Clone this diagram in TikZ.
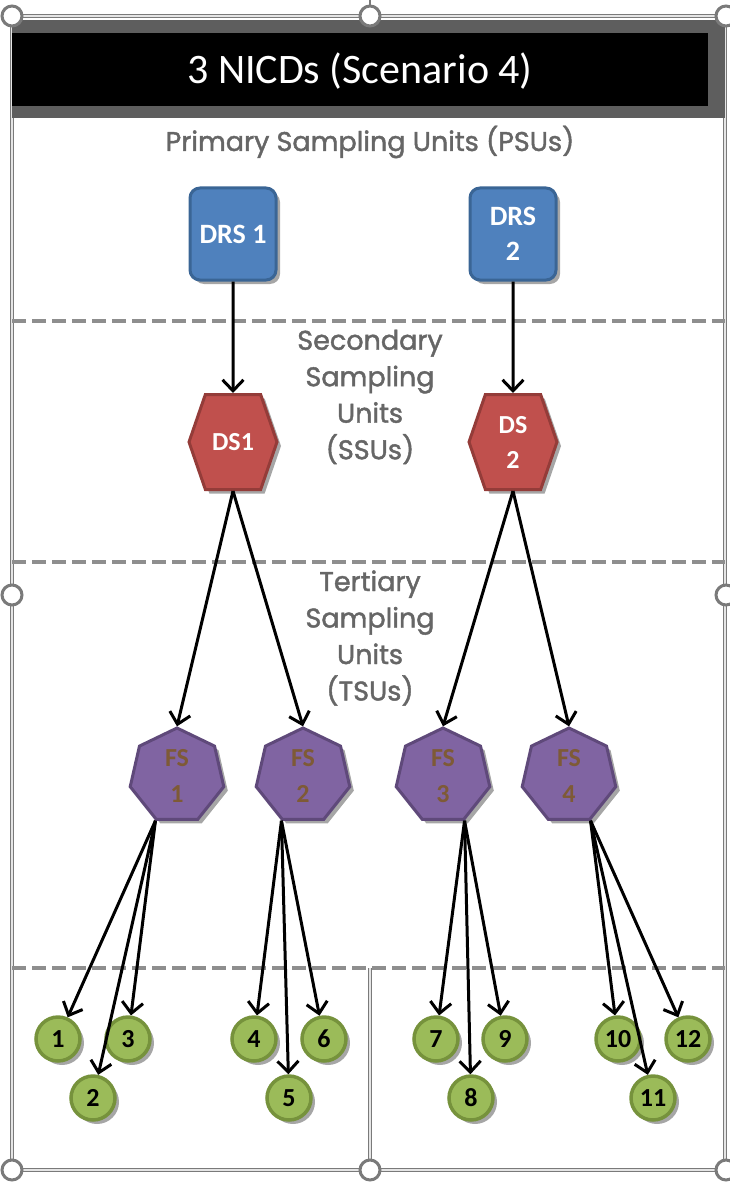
\documentclass[tikz,border=0pt]{standalone}
\usepackage{fontspec}
\setmainfont{Carlito}
\newfontfamily\unitfont{Poppins}[FakeBold=1.6]
\usetikzlibrary{shapes.geometric,shapes.symbols,arrows.meta,shadows}

\definecolor{drsblue}{HTML}{4F81BD}
\definecolor{drsedge}{HTML}{3A6595}
\definecolor{dsred}{HTML}{C0504D}
\definecolor{dsedge}{HTML}{943C39}
\definecolor{fspurple}{HTML}{8064A2}
\definecolor{fsedge}{HTML}{5F497A}
\definecolor{fstext}{HTML}{7E5A36}
\definecolor{eagreen}{HTML}{9BBB59}
\definecolor{eaedge}{HTML}{76923C}
\definecolor{unitgray}{HTML}{666666}
\definecolor{framegray}{HTML}{7A7A7A}
\definecolor{dashgray}{HTML}{8E8E8E}
\definecolor{headgray}{HTML}{5E5E5E}

\tikzset{
  nodeshadow/.style={drop shadow={shadow xshift=4pt, shadow yshift=-4pt, opacity=.35, fill=black}},
  drsbox/.style={draw=drsedge, fill=drsblue, line width=3pt, rounded corners=10pt,
    minimum width=86pt, minimum height=92pt, text=white, align=center,
    font=\fontsize{28}{35}\selectfont\bfseries, nodeshadow},
  dshex/.style={signal, signal to=east and west, signal pointer angle=142,
    draw=dsedge, fill=dsred, line width=3pt, minimum width=88pt, minimum height=95pt,
    inner sep=0pt, text=white, align=center, font=\fontsize{26}{35}\selectfont\bfseries, nodeshadow},
  fshept/.style={regular polygon, regular polygon sides=7, minimum size=96pt, inner sep=0pt,
    draw=fsedge, fill=fspurple, line width=3pt, text=fstext, align=center,
    font=\fontsize{26}{36}\selectfont\bfseries, nodeshadow},
  eanode/.style={circle, minimum size=44pt, inner sep=0pt, draw=eaedge, fill=eagreen,
    line width=3.5pt, font=\fontsize{26}{26}\selectfont\bfseries, nodeshadow},
  unitlabel/.style={text=unitgray, align=center, font=\unitfont\fontsize{27}{36.5}\selectfont},
  link/.style={line width=3pt, -{Straight Barb[length=11pt,width=21pt]}},
  sepline/.style={draw=dashgray, line width=4pt, dash pattern=on 14pt off 6pt},
  frameline/.style={draw=framegray, line width=1.8pt, double=white!80!gray, double distance=1.2pt},
  handle/.style={draw=framegray, fill=white, line width=3pt}
}

\begin{document}
\begin{tikzpicture}[x=1pt, y=-1pt]
  \useasboundingbox (0,0) rectangle (730,1182);

  % frame and header
  \draw[frameline] (12,16) -- (725,16);
  \draw[frameline] (12,16) -- (12,1170);
  \draw[frameline] (725,16) -- (725,1170);
  \draw[frameline] (12,1170) -- (725,1170);
  \draw[frameline] (370,968) -- (370,1170);
  \fill[headgray] (12,20) rectangle (725,118);
  \fill[black] (12,33) rectangle (708,106);
  \node[text=white, font=\fontsize{42}{42}\selectfont] (title) at (360,71) {3 NICDs (Scenario 4)};

  % level separators
  \draw[sepline] (12,321) -- (725,321);
  \draw[sepline] (12,562) -- (725,562);
  \draw[sepline] (12,968) -- (725,968);

  \node[unitlabel] (psu) at (370,142) {Primary Sampling Units (PSUs)};
  \node[unitlabel] (ssu) at (370,397) {Secondary\\Sampling\\Units\\(SSUs)};
  \node[unitlabel] (tsu) at (370,638) {Tertiary\\Sampling\\Units\\(TSUs)};

  % units
  \node[drsbox] (drs1) at (233,234) {DRS 1};
  \node[drsbox] (drs2) at (513,234) {DRS\\2};

  \node[dshex] (ds1) at (233,442) {DS1};
  \node[dshex] (ds2) at (513,442) {DS\\2};

  \node[fshept] (fs1) at (177,776) {FS\\1};
  \node[fshept] (fs2) at (303,776) {FS\\2};
  \node[fshept] (fs3) at (443,776) {FS\\3};
  \node[fshept] (fs4) at (569,776) {FS\\4};

  \node[eanode] (ea1) at (58,1039) {1};
  \node[eanode] (ea2) at (93,1098) {2};
  \node[eanode] (ea3) at (128,1039) {3};
  \node[eanode] (ea4) at (254,1039) {4};
  \node[eanode] (ea5) at (289,1098) {5};
  \node[eanode] (ea6) at (324,1039) {6};
  \node[eanode] (ea7) at (436,1039) {7};
  \node[eanode] (ea8) at (471,1098) {8};
  \node[eanode] (ea9) at (505,1039) {9};
  \node[eanode] (ea10) at (618,1039) {10};
  \node[eanode] (ea11) at (653,1098) {11};
  \node[eanode] (ea12) at (688,1039) {12};

  % arrows
  \draw[link] (drs1) -- (ds1);
  \draw[link] (drs2) -- (ds2);
  \draw[link] (ds1.south) -- (fs1.corner 1);
  \draw[link] (ds1.south) -- (fs2.corner 1);
  \draw[link] (ds2.south) -- (fs3.corner 1);
  \draw[link] (ds2.south) -- (fs4.corner 1);
  \draw[link] (fs1.corner 4) -- (ea1);
  \draw[link] (fs1.corner 4) -- (ea2);
  \draw[link] (fs1.corner 4) -- (ea3);
  \draw[link] (fs2.corner 4) -- (ea4);
  \draw[link] (fs2.corner 4) -- (ea5);
  \draw[link] (fs2.corner 4) -- (ea6);
  \draw[link] (fs3.corner 5) -- (ea7);
  \draw[link] (fs3.corner 5) -- (ea8);
  \draw[link] (fs3.corner 5) -- (ea9);
  \draw[link] (fs4.corner 5) -- (ea10);
  \draw[link] (fs4.corner 5) -- (ea11);
  \draw[link] (fs4.corner 5) -- (ea12);

  % selection handles
  \draw[framegray, line width=1.5pt] (370,0) -- (370,6);
  \draw[handle] (12,16) circle (10);
  \draw[handle] (370,16) circle (10);
  \draw[handle] (726,16) circle (10);
  \draw[handle] (12,595) circle (10);
  \draw[handle] (726,595) circle (10);
  \draw[handle] (12,1170) circle (10);
  \draw[handle] (370,1170) circle (10);
  \draw[handle] (726,1170) circle (10);
\end{tikzpicture}
\end{document}
